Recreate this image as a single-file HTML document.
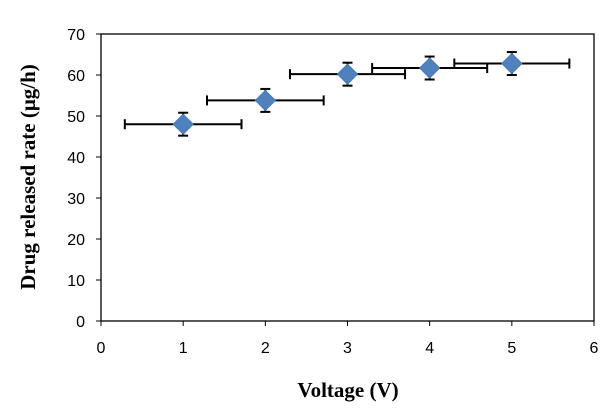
<!DOCTYPE html>
<html><head><meta charset="utf-8"><style>body{margin:0;background:#fff}svg{display:block}</style></head>
<body>
<svg width="607" height="420" xmlns="http://www.w3.org/2000/svg" font-family="Liberation Serif, serif">
<g id="axes"></g><g id="marks"></g>
</svg>
<script>
const xValues=[1,2,3,4,5];
const yValues=[48,53.8,60.2,61.7,62.8];
const yErr=[2.8,2.8,2.8,2.8,2.8];
const xErr=[0.71,0.71,0.7,0.7,0.7];
const xTicks=[0,1,2,3,4,5,6];
const yTicks=[0,10,20,30,40,50,60,70];
const L=101,R=594,T=34,B=321;
const sx=v=>L+(v-0)/6*(R-L);
const sy=v=>B-(v/70)*(B-T);
const NS="http://www.w3.org/2000/svg";
function mk(tag,attrs,parent,text){const e=document.createElementNS(NS,tag);for(const k in attrs)e.setAttribute(k,attrs[k]);if(text!==undefined)e.textContent=text;parent.appendChild(e);return e;}
const ax=document.getElementById('axes'),mg=document.getElementById('marks');
let f=mk('rect',{x:L,y:T,width:R-L,height:B-T,fill:'none',stroke:'#000','stroke-width':1.3},ax);


xTicks.forEach(t=>{const x=sx(t);
 let l=mk('line',{x1:x,x2:x,y1:B,y2:B+5,stroke:'#000'},ax);
 
 
 let tx=mk('text',{x:x,y:B+32,'text-anchor':'middle','font-size':16,'font-family':'Liberation Sans, sans-serif'},ax,t);
 
 });
yTicks.forEach(t=>{const y=sy(t);
 let l=mk('line',{x1:L-5,x2:L,y1:y,y2:y,stroke:'#000'},ax);
 
 
 let tx=mk('text',{x:L-16,y:y+6,'text-anchor':'end','font-size':16,'font-family':'Liberation Sans, sans-serif'},ax,t);
 
 });
let xt=mk('text',{x:348,y:397,'text-anchor':'middle','font-size':21,'font-weight':'bold'},ax,'Voltage (V)');


let yt=mk('text',{x:0,y:0,'text-anchor':'middle','font-size':21,'font-weight':'bold',transform:'translate(35,177) rotate(-90)'},ax,'Drug released rate (μg/h)');


xValues.forEach((xv,i)=>{const cx=sx(xv),cy=sy(yValues[i]);
 const g=mk('g',{stroke:'#000','stroke-width':2},mg);
 
 
 const x1=sx(xv-xErr[i]),x2=sx(xv+xErr[i]);
 mk('line',{x1:x1,x2:x2,y1:cy,y2:cy},g);
 mk('line',{x1:x1,x2:x1,y1:cy-5,y2:cy+5},g);
 mk('line',{x1:x2,x2:x2,y1:cy-5,y2:cy+5},g);
 const y1=sy(yValues[i]+yErr[i]),y2=sy(yValues[i]-yErr[i]);
 mk('line',{x1:cx,x2:cx,y1:y1,y2:y2},g);
 mk('line',{x1:cx-5,x2:cx+5,y1:y1,y2:y1},g);
 mk('line',{x1:cx-5,x2:cx+5,y1:y2,y2:y2},g);
 const d=mk('path',{d:`M${cx},${cy-10}L${cx+10},${cy}L${cx},${cy+10}L${cx-10},${cy}Z`,fill:'#4f81bd',stroke:'#4a7ab5','stroke-width':1},mg);
 
 
});
</script>
</body></html>
